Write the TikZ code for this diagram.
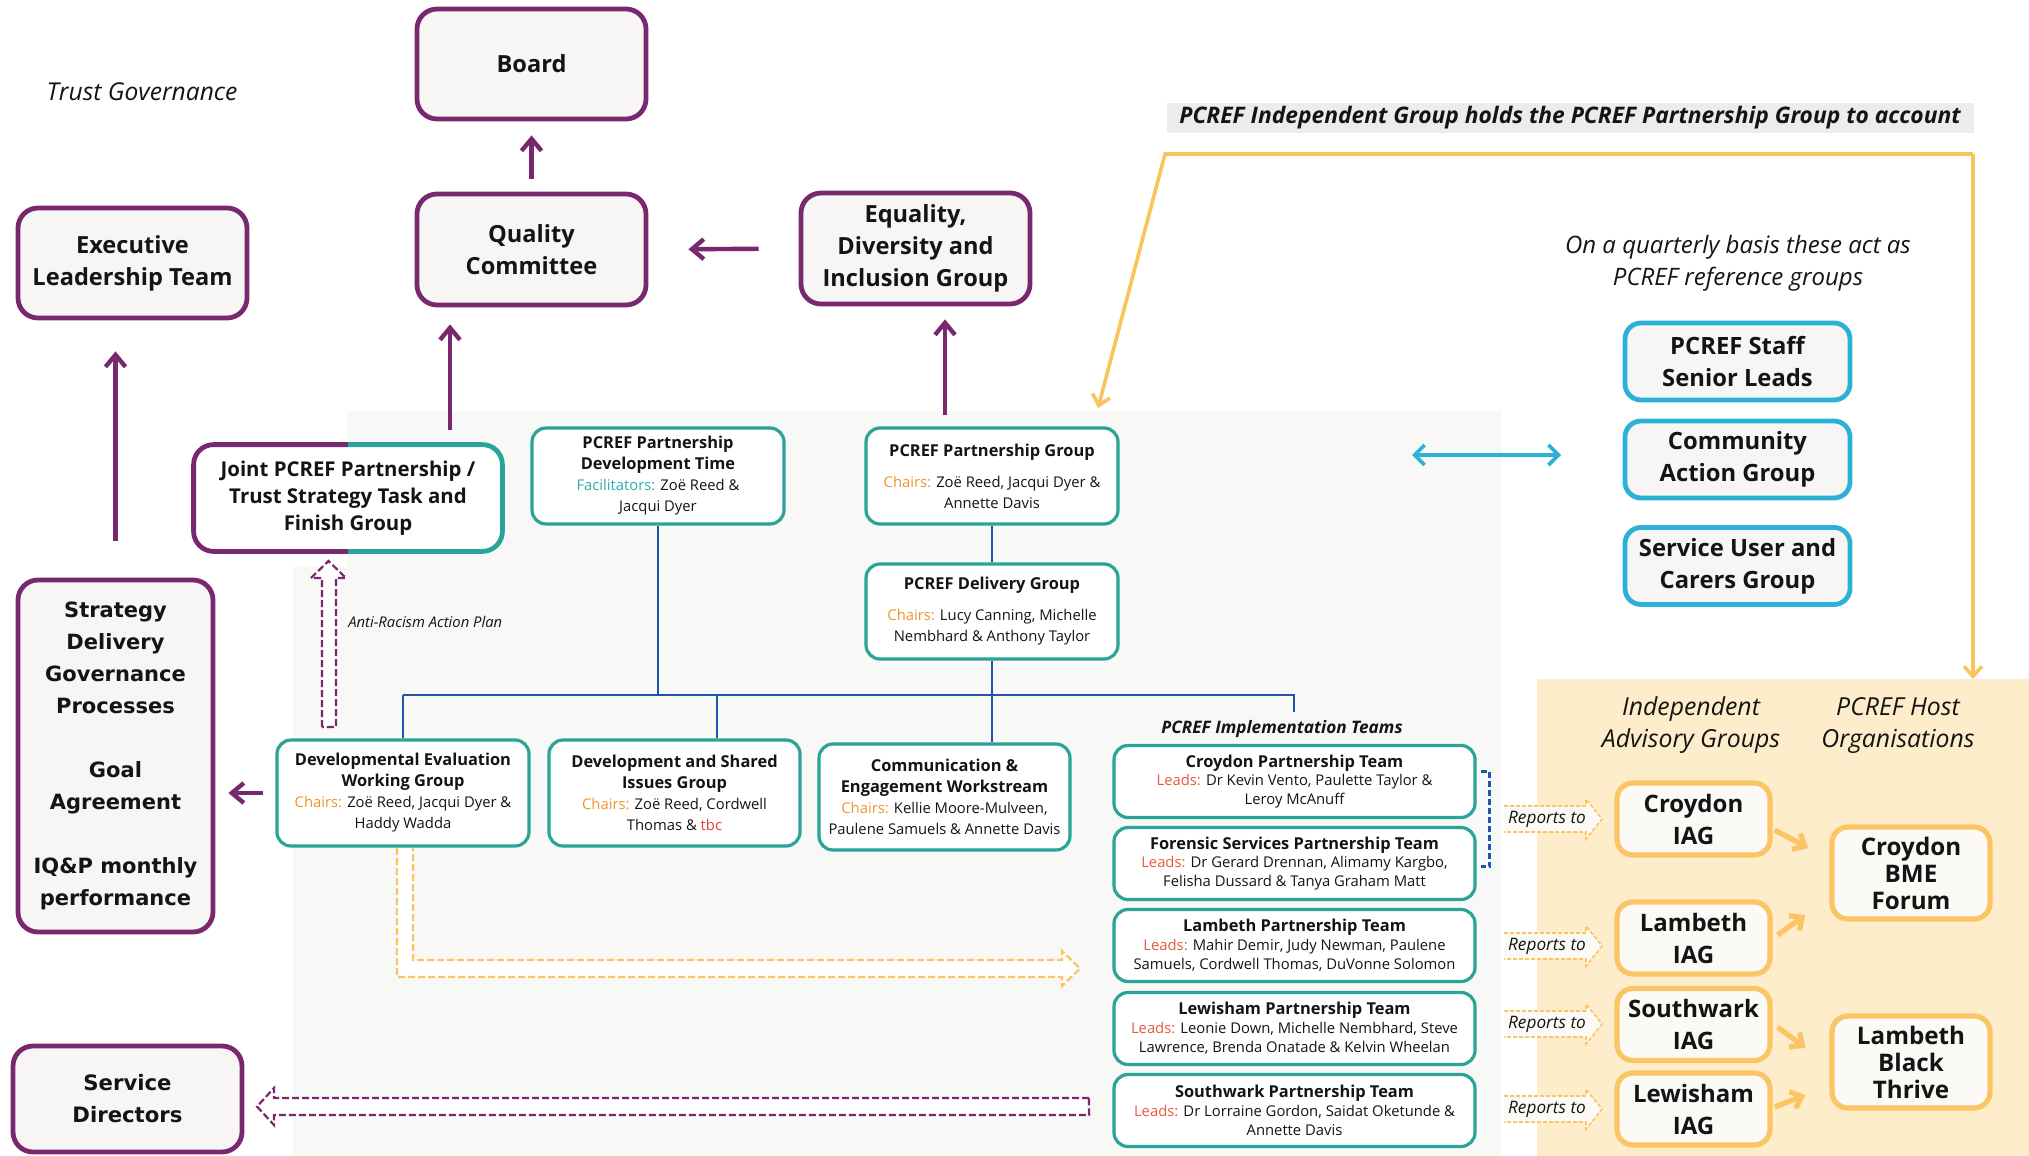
\documentclass[tikz,border=0pt]{standalone}
\usepackage{fontspec}
\setmainfont{Open Sans}
\newfontfamily\dejavu{DejaVu Sans}
\usetikzlibrary{arrows.meta}
\definecolor{pur}{RGB}{121,40,111}
\definecolor{tealc}{RGB}{42,163,152}
\definecolor{cyanc}{RGB}{43,176,214}
\definecolor{oranc}{RGB}{251,196,100}
\definecolor{yline}{RGB}{250,196,92}
\definecolor{panelc}{RGB}{253,237,203}
\definecolor{chairc}{RGB}{240,150,40}
\definecolor{leadc}{RGB}{232,90,60}
\definecolor{facc}{RGB}{40,175,170}
\definecolor{tbcc}{RGB}{230,60,60}
\definecolor{bluel}{RGB}{30,85,175}
\definecolor{bgg}{RGB}{248,248,246}
\definecolor{bannerg}{RGB}{236,236,236}
\definecolor{boxg}{RGB}{247,246,244}
\definecolor{boxw}{RGB}{251,250,246}
\definecolor{txt}{RGB}{20,20,20}
\newcommand\boxtitle[1]{{\bfseries\fontsize{8.2}{10.5}\selectfont #1}}
\newcommand\chairlbl{{\color{chairc}Chairs:}}
\newcommand\leadlbl{{\color{leadc}Leads:}}
\begin{document}
\begin{tikzpicture}[x=0.5pt,y=-0.5pt,
  every node/.style={text=txt},
  pbox/.style={draw=pur, line width=2.4pt, rounded corners=10pt, fill=boxg, align=center, inner sep=0pt, font=\bfseries\fontsize{11.8}{16}\selectfont},
  tbox/.style={draw=tealc, line width=1.6pt, rounded corners=7pt, fill=white, align=center, inner sep=0pt, font=\fontsize{7.4}{10.5}\selectfont},
  teambox/.style={tbox, minimum width=180.5pt, minimum height=36pt, font=\fontsize{7.4}{9.4}\selectfont},
  cbox/.style={draw=cyanc, line width=2.4pt, rounded corners=8pt, fill=boxg, align=center, inner sep=0pt, minimum width=112.5pt, minimum height=38.5pt, font=\bfseries\fontsize{11.9}{16}\selectfont},
  obox/.style={draw=oranc, line width=2.6pt, rounded corners=8pt, fill=boxw, align=center, inner sep=0pt, font=\bfseries\fontsize{12}{16}\selectfont},
  parrow/.style={draw=pur, line width=2.2pt, -{Straight Barb[length=6pt,width=10pt]}},
  oarrow/.style={draw=oranc, line width=2.6pt, -{Straight Barb[length=5pt,width=9pt]}},
  bline/.style={draw=bluel, line width=1.4pt},
  ylinest/.style={draw=yline, line width=1.8pt},
  pdash/.style={draw=pur, line width=1.1pt, dash pattern=on 3.5pt off 1.5pt, fill=white},
  odash/.style={draw=oranc, line width=1.1pt, dash pattern=on 3.5pt off 1.5pt, fill=white},
  rdash/.style={draw=oranc, line width=0.8pt, dash pattern=on 2pt off 1pt},
  ital/.style={font=\itshape\fontsize{12.4}{16}\selectfont, align=center}
]
\useasboundingbox (0,0) rectangle (2029,1156);

% background panels
\fill[bgg] (347,411) -- (1501,411) -- (1501,1156) -- (293,1156) -- (293,567) -- (347,567) -- cycle;
\fill[panelc] (1537,679) rectangle (2029,1156);

% titles
\node[font=\itshape\fontsize{12.3}{14}\selectfont] (tg) at (142,92) {Trust Governance};
\node[fill=bannerg, minimum width=403.5pt, minimum height=15pt, inner sep=0pt, font=\bfseries\itshape\fontsize{11.4}{12}\selectfont] (banner) at (1570,118) {PCREF Independent Group holds the PCREF Partnership Group to account};
\node[ital, font=\itshape\fontsize{12}{16}\selectfont] (quart) at (1738,263) {On a quarterly basis these act as\\PCREF reference groups};

% purple boxes
\node[pbox, minimum width=114.5pt, minimum height=55pt] (board) at (531.5,64) {Board};
\node[pbox, minimum width=114.5pt, minimum height=55.5pt] (quality) at (531.5,249.5) {Quality\\Committee};
\node[pbox, minimum width=114.5pt, minimum height=55pt] (exec) at (132.5,263) {Executive\\Leadership Team};
\node[pbox, minimum width=114.5pt, minimum height=55.5pt] (edi) at (915.5,248.5) {Equality,\\Diversity and\\Inclusion Group};
\node[pbox, minimum width=97.5pt, minimum height=176pt, font=\dejavu\bfseries\fontsize{10.5}{16}\selectfont] (strategy) at (115.5,756) {Strategy\\Delivery\\Governance\\Processes\\[16pt]Goal\\Agreement\\[16pt]IQ\&P monthly\\performance};
\node[pbox, minimum width=114.5pt, minimum height=53pt, font=\dejavu\bfseries\fontsize{10.6}{16}\selectfont] (sdir) at (127.5,1099) {Service\\Directors};

% joint box with two-colour border
\node[fill=white, rounded corners=10pt, minimum width=154pt, minimum height=53pt, align=center, inner sep=0pt, font=\bfseries\fontsize{10.2}{13.5}\selectfont] (joint) at (348,498) {Joint PCREF Partnership /\\Trust Strategy Task and\\Finish Group};
\begin{scope}
\clip ([shift={(-4pt,4pt)}]joint.north west) rectangle ([yshift=-4pt]joint.south);
\draw[pur, line width=2.4pt, rounded corners=10pt] (joint.north west) rectangle (joint.south east);
\end{scope}
\begin{scope}
\clip ([yshift=4pt]joint.north) rectangle ([shift={(4pt,-4pt)}]joint.south east);
\draw[tealc, line width=2.4pt, rounded corners=10pt] (joint.north west) rectangle (joint.south east);
\end{scope}

% teal boxes
\node[tbox, minimum width=126pt, minimum height=48pt] (devtime) at (658,476) {\boxtitle{PCREF Partnership}\\\boxtitle{Development Time}\\{\color{facc}Facilitators:} Zoë Reed \&\\Jacqui Dyer};
\node[tbox, minimum width=126pt, minimum height=48pt] (pgroup) at (992,476) {\boxtitle{PCREF Partnership Group}\\[5pt]\chairlbl{} Zoë Reed, Jacqui Dyer \&\\Annette Davis};
\node[tbox, minimum width=126pt, minimum height=47.5pt] (delivery) at (992,611.5) {\boxtitle{PCREF Delivery Group}\\[5pt]\chairlbl{} Lucy Canning, Michelle\\Nembhard \& Anthony Taylor};
\node[tbox, minimum width=126pt, minimum height=53pt] (deveval) at (403,793) {\boxtitle{Developmental Evaluation}\\\boxtitle{Working Group}\\\chairlbl{} Zoë Reed, Jacqui Dyer \&\\Haddy Wadda};
\node[tbox, minimum width=125.5pt, minimum height=53pt] (devshared) at (674.5,793) {\boxtitle{Development and Shared}\\\boxtitle{Issues Group}\\\chairlbl{} Zoë Reed, Cordwell\\Thomas \& {\color{tbcc}tbc}};
\node[tbox, minimum width=125.5pt, minimum height=53pt] (comm) at (944.5,797) {\boxtitle{Communication \&}\\\boxtitle{Engagement Workstream}\\\chairlbl{} Kellie Moore-Mulveen,\\Paulene Samuels \& Annette Davis};

% implementation teams
\node[font=\bfseries\itshape\fontsize{8.6}{10}\selectfont] (impl) at (1282,729) {PCREF Implementation Teams};
\node[teambox] (tcroy) at (1294.5,781.5) {\boxtitle{Croydon Partnership Team}\\\leadlbl{} Dr Kevin Vento, Paulette Taylor \&\\Leroy McAnuff};
\node[teambox] (tfor) at (1294.5,863.5) {\boxtitle{Forensic Services Partnership Team}\\\leadlbl{} Dr Gerard Drennan, Alimamy Kargbo,\\Felisha Dussard \& Tanya Graham Matt};
\node[teambox] (tlam) at (1294.5,945.5) {\boxtitle{Lambeth Partnership Team}\\\leadlbl{} Mahir Demir, Judy Newman, Paulene\\Samuels, Cordwell Thomas, DuVonne Solomon};
\node[teambox] (tlew) at (1294.5,1028.5) {\boxtitle{Lewisham Partnership Team}\\\leadlbl{} Leonie Down, Michelle Nembhard, Steve\\Lawrence, Brenda Onatade \& Kelvin Wheelan};
\node[teambox] (tsou) at (1294.5,1110.5) {\boxtitle{Southwark Partnership Team}\\\leadlbl{} Dr Lorraine Gordon, Saidat Oketunde \&\\Annette Davis};
\draw[bluel, line width=1.4pt, dash pattern=on 3pt off 1.5pt] ([xshift=2pt,yshift=5pt]tcroy.east) -| ([xshift=6.5pt,yshift=-1.5pt]tfor.east) -- ([xshift=2pt,yshift=-1.5pt]tfor.east);

% cyan boxes
\node[cbox] (staff) at (1737.5,361.5) {PCREF Staff\\Senior Leads};
\node[cbox] (cag) at (1737.5,459.5) {Community\\Action Group};
\node[cbox] (sucg) at (1737.5,566) {Service User and\\Carers Group};
\coordinate (dl) at (1412,455);
\coordinate (dr) at (1561,455);
\draw[cyanc, line width=1.8pt, {Straight Barb[length=5pt,width=10pt]}-{Straight Barb[length=5pt,width=10pt]}] (dl) -- (dr);

% yellow panel headings and boxes
\node[ital] (iagh) at (1691,725) {Independent\\Advisory Groups};
\node[ital] (hosth) at (1898,725) {PCREF Host\\Organisations};
\node[obox, minimum width=76.5pt, minimum height=36pt] (ciag) at (1693.5,819) {Croydon\\IAG};
\node[obox, minimum width=76.5pt, minimum height=36pt] (liag) at (1693.5,938) {Lambeth\\IAG};
\node[obox, minimum width=76.5pt, minimum height=36pt] (siag) at (1693.5,1024.5) {Southwark\\IAG};
\node[obox, minimum width=76.5pt, minimum height=36pt] (wiag) at (1693.5,1109) {Lewisham\\IAG};
\node[obox, minimum width=79pt, minimum height=46pt, font=\bfseries\fontsize{12.1}{13.5}\selectfont] (bme) at (1911,873) {Croydon\\BME\\Forum};
\node[obox, minimum width=79pt, minimum height=46pt, font=\bfseries\fontsize{12.1}{13.5}\selectfont] (lbt) at (1911,1062) {Lambeth\\Black\\Thrive};
\draw[oarrow] ([xshift=1pt,yshift=-5.5pt]ciag.east) -- ([xshift=-10.5pt,yshift=12.5pt]bme.west);
\draw[oarrow] ([xshift=2.5pt,yshift=1.5pt]liag.east) -- ([xshift=-12pt,yshift=-21pt]bme.west);
\draw[oarrow] ([xshift=2.5pt,yshift=-1.25pt]siag.east) -- ([xshift=-12pt,yshift=7pt]lbt.west);
\draw[oarrow] ([xshift=1pt,yshift=1pt]wiag.east) -- ([xshift=-12pt,yshift=-16.5pt]lbt.west);

% reports to arrows
\foreach \yy/\nm in {819/rA, 946/rB, 1024/rC, 1109/rD}{
  \fill[boxw] (1504,\yy-13) -- (1586,\yy-13) -- (1586,\yy-20) -- (1602,\yy) -- (1586,\yy+20) -- (1586,\yy+13) -- (1504,\yy+13) -- cycle;
  \draw[rdash] (1504,\yy-13) -- (1586,\yy-13) -- (1586,\yy-20) -- (1602,\yy) -- (1586,\yy+20) -- (1586,\yy+13) -- (1504,\yy+13);
  \node[font=\itshape\fontsize{8.6}{10}\selectfont] (\nm) at (1547,\yy) {Reports to};
}

% yellow accountability lines
\coordinate (ytl) at (1165,154);
\coordinate (ytr) at (1973,154);
\coordinate (ytip) at (1098,408);
\coordinate (ypt) at (1973,679);
\draw[ylinest, -{Straight Barb[length=5pt,width=9pt]}] (ytr) -- (ytl) -- (ytip);
\draw[ylinest, -{Straight Barb[length=5pt,width=9pt]}] (ytr) -- (ypt);

% purple arrows
\draw[parrow, shorten <=6.5pt, shorten >=7pt] (quality.north) -- (board.south);
\draw[parrow, shorten <=20pt, shorten >=20pt] (edi.west) -- (quality.east);
\coordinate (jq) at ([xshift=51pt]joint.north);
\draw[parrow, shorten <=7.5pt, shorten >=8.5pt] (jq) -- (jq |- quality.south);
\coordinate (pe) at ([xshift=-23.5pt]pgroup.north);
\draw[parrow, shorten <=5.5pt, shorten >=6.5pt] (pe) -- (pe |- edi.south);
\draw[parrow, shorten <=18.5pt, shorten >=15.5pt] (strategy.north) -- (strategy.north |- exec.south);
\draw[parrow, shorten <=6pt, shorten >=6.5pt] (deveval.west) -- (deveval.west -| strategy.east);

% blue connectors
\coordinate (hl) at (403,695);
\coordinate (hr) at (1294,695);
\coordinate (hre) at (1294,712);
\draw[bline] (hl) -- (hr) -- (hre);
\draw[bline] (devtime.south) -- (devtime.south |- hl);
\draw[bline] (deveval.north) -- (deveval.north |- hl);
\coordinate (ds) at ([xshift=21.25pt]devshared.north);
\draw[bline] (ds) -- (ds |- hl);
\draw[bline] (pgroup.south) -- (delivery.north);
\draw[bline] (delivery.south) -- (delivery.south |- comm.north);

% hollow dashed arrows
\draw[pdash] (322,727) -- (322,578) -- (311,578) -- (328.5,561) -- (346,578) -- (336,578) -- (336,727) -- cycle;
\node[anchor=west, inner sep=0pt, font=\itshape\fontsize{7.4}{8}\selectfont] (arlbl) at (348,622) {Anti-Racism Action Plan};
\draw[pdash] (1089,1098) -- (274,1098) -- (274,1088) -- (257,1106.5) -- (274,1125) -- (274,1115) -- (1089,1115) -- cycle;
\draw[odash] (397,848) -- (397,977) -- (1062,977) -- (1062,986) -- (1080,968.5) -- (1062,951) -- (1062,960) -- (413,960) -- (413,848);
\end{tikzpicture}
\end{document}
